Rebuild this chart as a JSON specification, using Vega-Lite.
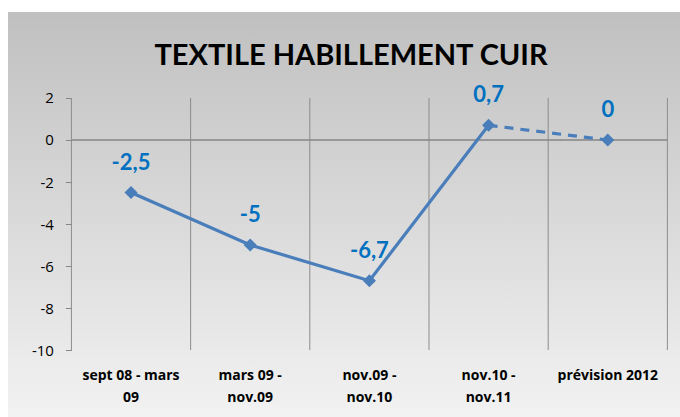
{
  "$schema": "https://vega.github.io/schema/vega-lite/v6.json",
  "width": 672,
  "height": 405,
  "autosize": {"type": "none"},
  "padding": {"left": 8, "top": 12, "right": 0, "bottom": 0},
  "background": "#ffffff",
  "config": {
    "locale": {"number": {"decimal": ",", "thousands": " ", "grouping": [3], "currency": ["", " €"], "minus": "-"}},
    "font": "Lato"
  },
  "view": {
    "stroke": null,
    "fill": {"gradient": "linear", "x1": 0, "y1": 0, "x2": 0, "y2": 1, "stops": [{"offset": 0, "color": "#c0c0c0"}, {"offset": 1, "color": "#f2f2f2"}]}
  },
  "title": {
    "text": "TEXTILE HABILLEMENT CUIR",
    "font": "Lato",
    "fontSize": 29,
    "fontWeight": "bold",
    "color": "#000000",
    "anchor": "middle",
    "frame": "group",
    "baseline": "alphabetic",
    "offset": -82,
    "dx": 7
  },
  "data": {
    "values": [
      {"period": "sept 08 - mars 09", "value": -2.5},
      {"period": "mars 09 - nov.09", "value": -5},
      {"period": "nov.09 - nov.10", "value": -6.7},
      {"period": "nov.10 - nov.11", "value": 0.7},
      {"period": "prévision 2012", "value": 0}
    ]
  },
  "encoding": {
    "x": {
      "field": "period",
      "type": "nominal",
      "sort": null,
      "scale": {"type": "band", "paddingInner": 0, "paddingOuter": 0.319, "align": 0.834},
      "axis": {
        "title": null,
        "orient": "bottom",
        "offset": -68,
        "domain": false,
        "ticks": false,
        "grid": false,
        "labelAngle": 0,
        "labelFont": "Open Sans",
        "labelFontSize": 14,
        "labelFontWeight": "bold",
        "labelColor": "#000000",
        "labelPadding": 19,
        "labelLineHeight": 22,
        "labelBaseline": "top",
        "labelExpr": "datum.value == 'sept 08 - mars 09' ? ['sept 08 - mars', '09'] : datum.value == 'mars 09 - nov.09' ? ['mars 09 -', 'nov.09'] : datum.value == 'nov.09 - nov.10' ? ['nov.09 -', 'nov.10'] : datum.value == 'nov.10 - nov.11' ? ['nov.10 -', 'nov.11'] : datum.value"
      }
    },
    "y": {
      "field": "value",
      "type": "quantitative",
      "scale": {"domain": [-13.19, 6.095], "nice": false, "zero": false},
      "axis": {
        "title": null,
        "offset": -63.4,
        "values": [-10, -8, -6, -4, -2, 0, 2],
        "format": "d",
        "domain": false,
        "grid": false,
        "tickColor": "#868686",
        "tickSize": 6,
        "labelPadding": 12,
        "labelFont": "Open Sans",
        "labelFontSize": 15,
        "labelColor": "#000000"
      }
    }
  },
  "layer": [
    {
      "mark": {"type": "rule", "color": "#8c8c8c", "strokeWidth": 1},
      "encoding": {
        "x": {"field": "period", "type": "nominal", "sort": null, "bandPosition": 0},
        "y": {"datum": -10, "type": "quantitative"},
        "y2": {"datum": 2}
      }
    },
    {
      "transform": [{"filter": "datum.period == 'prévision 2012'"}],
      "mark": {"type": "rule", "color": "#8c8c8c", "strokeWidth": 1},
      "encoding": {
        "x": {"field": "period", "type": "nominal", "sort": null, "bandPosition": 1},
        "y": {"datum": -10, "type": "quantitative"},
        "y2": {"datum": 2}
      }
    },
    {
      "mark": {"type": "rule", "color": "#868686", "strokeWidth": 1.5},
      "encoding": {
        "x": {"field": "period", "type": "nominal", "sort": null, "bandPosition": 0},
        "x2": {"field": "period", "bandPosition": 1},
        "y": {"datum": 0, "type": "quantitative"}
      }
    },
    {
      "transform": [{"filter": "datum.period != 'prévision 2012'"}],
      "mark": {"type": "line", "color": "#4a7ebb", "strokeWidth": 3.2},
      "encoding": {
        "x": {"field": "period", "type": "nominal", "sort": null, "bandPosition": 0.5}
      }
    },
    {
      "transform": [{"filter": "datum.period == 'nov.10 - nov.11' || datum.period == 'prévision 2012'"}],
      "mark": {"type": "line", "color": "#4a7ebb", "strokeWidth": 3.2, "strokeDash": [9, 7]},
      "encoding": {
        "x": {"field": "period", "type": "nominal", "sort": null, "bandPosition": 0.5}
      }
    },
    {
      "mark": {"type": "point", "shape": "diamond", "filled": true, "opacity": 1, "size": 170, "color": "#4a7ebb"},
      "encoding": {
        "x": {"field": "period", "type": "nominal", "sort": null, "bandPosition": 0.5}
      }
    },
    {
      "mark": {"type": "text", "font": "Lato", "fontSize": 22, "fontWeight": "bold", "color": "#0070c0", "dy": -30, "baseline": "middle", "align": "center"},
      "encoding": {
        "x": {"field": "period", "type": "nominal", "sort": null, "bandPosition": 0.5},
        "text": {"field": "value", "type": "quantitative", "format": ".2~g"}
      }
    }
  ]
}
